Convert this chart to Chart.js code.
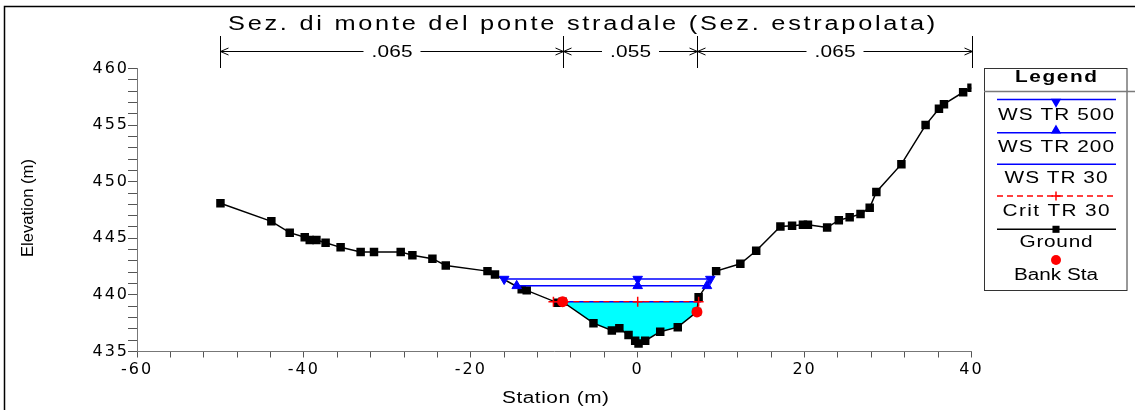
<!DOCTYPE html>
<html>
<head>
<meta charset="utf-8">
<script src="https://cdn.jsdelivr.net/npm/chart.js@4.4.0/dist/chart.umd.min.js"></script>
<style>
html,body{margin:0;padding:0;background:#fff;}
canvas{display:block;}
</style>
</head>
<body>
<canvas id="c" width="1135" height="410"></canvas>
<script>
// ---------------- data ----------------
const chartTitle = 'Sez. di monte del ponte stradale (Sez. estrapolata)';
const xTitle = 'Station (m)';
const yTitle = 'Elevation (m)';
const legendTitle = 'Legend';

const groundStation = [-50.0, -43.9, -41.7, -39.9, -39.3, -38.5, -37.4, -35.6, -33.2, -31.6,
  -28.4, -27.0, -24.6, -23.0, -18.0, -17.1, -13.9, -13.3, -9.6, -9.0,
  -5.3, -3.1, -2.2, -1.1, -0.3, 0.1, 0.9, 2.7, 4.8, 7.1,
  7.3, 9.4, 12.3, 14.2, 17.1, 18.5, 19.8, 20.4, 22.7, 24.1,
  25.4, 26.7, 27.8, 28.6, 31.6, 34.5, 36.1, 36.7, 39.0, 40.0];
const groundElev = [448.1, 446.5, 445.5, 445.1, 444.85, 444.85, 444.6, 444.2, 443.8, 443.8,
  443.8, 443.5, 443.2, 442.6, 442.1, 441.8, 440.5, 440.4, 439.3, 439.4,
  437.5, 436.85, 437.05, 436.45, 435.95, 435.7, 435.95, 436.75, 437.15, 438.5,
  439.8, 442.1, 442.75, 443.9, 446.05, 446.1, 446.2, 446.2, 445.95, 446.6,
  446.85, 447.15, 447.7, 449.1, 451.55, 455.0, 456.45, 456.85, 457.9, 458.3];

const bankStation = [-9.0, 7.1];
const bankElev = [439.4, 438.5];

const wsNames = ['WS TR 500', 'WS TR 200', 'WS TR 30', 'Crit TR 30'];
const wsElev = [441.4, 440.8, 439.4, 439.4];
const wsLeft = [-16.0, -14.5, -10.1, -10.1];
const wsRight = [8.7, 8.3, 7.6, 7.3];
const wsMarkStation = [0, 0, null, 0];

const manningBreaks = [-50, -9.0, 7.1, 40];
const manningN = ['.065', '.055', '.065'];

const xTickLabels = [-60, -40, -20, 0, 20, 40];
const yTickLabels = [435, 440, 445, 450, 455, 460];

// ---------------- helpers ----------------
const FONT = '"Liberation Sans", Arial, Helvetica, sans-serif';
const TICKFONT = '"DejaVu Sans", "Liberation Sans", sans-serif';
const BLUE = '#0000ff', RED = '#ff0000', CYAN = '#00ffff';

function pts(xs, ys) { return xs.map((x, i) => ({x: x, y: ys[i]})); }
function wsData(i) {
  const d = [{x: wsLeft[i], y: wsElev[i]}];
  if (wsMarkStation[i] !== null) d.push({x: wsMarkStation[i], y: wsElev[i]});
  d.push({x: wsRight[i], y: wsElev[i]});
  return d;
}
const waterPts = [{x: wsLeft[2], y: wsElev[2]}];
groundStation.forEach((s, i) => {
  if (s > wsLeft[2] && s < wsRight[2]) waterPts.push({x: s, y: groundElev[i]});
});
waterPts.push({x: wsRight[2], y: wsElev[2]});

// draw text stretched horizontally (max factor maxK) and letter-spaced to fill `width`
function fitText(ctx, text, cx, cy, width, size, bold, align, maxK) {
  maxK = maxK || 1.3;
  ctx.save();
  ctx.font = (bold ? 'bold ' : '') + size + 'px ' + FONT;
  ctx.letterSpacing = '0px';
  const w0 = ctx.measureText(text).width;
  const n = Array.from(text).length;
  let k = width / w0;
  if (k > maxK) k = maxK;
  const sp = n > 1 ? (width / k - w0) / (n - 1) : 0;
  ctx.letterSpacing = sp.toFixed(2) + 'px';
  ctx.fillStyle = '#000';
  ctx.textBaseline = 'middle';
  ctx.textAlign = 'left';
  const left = align === 'left' ? cx : cx - width / 2;
  ctx.translate(left, cy);
  ctx.scale(k, 1);
  ctx.fillText(text, 0, 0);
  ctx.restore();
}
function seg(ctx, x1, y1, x2, y2) {
  ctx.beginPath(); ctx.moveTo(x1, y1); ctx.lineTo(x2, y2); ctx.stroke();
}

// ---------------- datasets ----------------
const datasets = [
  { label: 'Bank Sta', data: pts(bankStation, bankElev), showLine: false,
    pointStyle: 'circle', pointRadius: 5.5, pointBackgroundColor: RED, pointBorderColor: RED,
    pointBorderWidth: 0, borderColor: RED, backgroundColor: RED },
  { label: wsNames[3], data: wsData(3), showLine: true, borderColor: RED, borderWidth: 1.3,
    borderDash: [6, 4], pointStyle: 'cross', pointRadius: 5, pointBorderColor: RED,
    pointBackgroundColor: RED, pointBorderWidth: 1.5 },
  { label: wsNames[0], data: wsData(0), showLine: true, borderColor: BLUE, borderWidth: 1.5,
    pointStyle: 'triangle', pointRotation: 180, pointRadius: 5.5, pointBackgroundColor: BLUE,
    pointBorderColor: BLUE, pointBorderWidth: 1 },
  { label: wsNames[1], data: wsData(1), showLine: true, borderColor: BLUE, borderWidth: 1.5,
    pointStyle: 'triangle', pointRotation: 0, pointRadius: 5.5, pointBackgroundColor: BLUE,
    pointBorderColor: BLUE, pointBorderWidth: 1 },
  { label: wsNames[2], data: wsData(2), showLine: true, borderColor: BLUE, borderWidth: 1.5,
    pointRadius: 0 },
  { label: 'Ground', data: pts(groundStation, groundElev), showLine: true, borderColor: '#000',
    borderWidth: 1.5, pointStyle: 'rect', pointRadius: 6, pointBackgroundColor: '#000',
    pointBorderColor: '#000', pointBorderWidth: 0 },
  { label: 'water', data: waterPts, showLine: true, borderWidth: 0, borderColor: 'rgba(0,0,0,0)',
    pointRadius: 0,
    fill: { target: { value: wsElev[2] }, above: 'rgba(0,0,0,0)', below: CYAN } }
];

// ---------------- plugins ----------------
const spacingPlugin = {
  id: 'spacing',
  beforeDraw(chart) { chart.ctx.letterSpacing = '2px'; },
  beforeDatasetsDraw(chart) { chart.ctx.letterSpacing = '0px'; }
};

const legendRows = [
  { label: wsNames[0], lineY: 99.5, textY: 115.5, w: 116, mk: {r: 4.5, dy: 2.2} },
  { label: wsNames[1], lineY: 132.7, textY: 148, w: 116, mk: {r: 4.5, dy: -2.2} },
  { label: wsNames[2], lineY: 164.3, textY: 179, w: 103, mk: null },
  { label: wsNames[3], lineY: 196, textY: 212, w: 107, mk: {r: 4.5, dy: 0} },
  { label: 'Ground', lineY: 229.3, textY: 243, w: 73, mk: {r: 5, dy: 0} },
  { label: 'Bank Sta', lineY: 260, textY: 275.5, w: 84, mk: {r: 5, dy: 0} }
];

const decoPlugin = {
  id: 'deco',
  afterDraw(chart) {
    const ctx = chart.ctx;
    const xs = chart.scales.x;
    ctx.save();
    ctx.letterSpacing = '0px';
    ctx.setLineDash([]);
    // outer frame
    ctx.strokeStyle = '#000'; ctx.lineWidth = 1.5;
    ctx.beginPath(); ctx.moveTo(4.5, 410); ctx.lineTo(4.5, 6.5); ctx.lineTo(1135, 6.5); ctx.stroke();

    // title
    fitText(ctx, chartTitle, 228, 24.5, 707, 19.5, false, 'left', 1.3);

    // manning n annotations
    ctx.strokeStyle = '#000'; ctx.lineWidth = 1;
    const yA = 51.5;
    const px = manningBreaks.map(v => Math.round(xs.getPixelForValue(v)) + 0.5);
    px.forEach(p => seg(ctx, p, 36, p, 68));
    for (let i = 0; i < manningN.length; i++) {
      const a = px[i], b = px[i + 1], mid = (a + b) / 2, tw = 41, gap = 8;
      seg(ctx, a, yA, mid - tw / 2 - gap, yA);
      seg(ctx, mid + tw / 2 + gap, yA, b, yA);
      seg(ctx, a, yA, a + 8, yA - 3.5); seg(ctx, a, yA, a + 8, yA + 3.5);
      seg(ctx, b, yA, b - 8, yA - 3.5); seg(ctx, b, yA, b - 8, yA + 3.5);
      fitText(ctx, manningN[i], mid, yA + 1.5, tw, 16, false, 'center', 1.3);
    }

    // axis titles
    fitText(ctx, xTitle, 555.5, 399, 107, 16, false, 'center', 1.3);
    ctx.save();
    ctx.translate(28.5, 208);
    ctx.rotate(-Math.PI / 2);
    fitText(ctx, yTitle, 0, 0, 98, 16, false, 'center', 1.1);
    ctx.restore();

    // legend
    const cx = 1056, x0 = 997, x1 = 1116;
    ctx.strokeStyle = '#333'; ctx.lineWidth = 1;
    ctx.strokeRect(984.5, 68.5, 142.5, 222);
    fitText(ctx, legendTitle, cx, 78, 82, 16, true, 'center', 1.3);
    ctx.strokeStyle = '#7a7a7a'; ctx.lineWidth = 1.5;
    seg(ctx, 984, 91.5, 1135, 91.5);
    legendRows.forEach(row => {
      const ds = chart.data.datasets.find(d => d.label === row.label);
      if (ds.showLine) {
        ctx.save();
        ctx.strokeStyle = ds.borderColor; ctx.lineWidth = ds.borderWidth;
        ctx.setLineDash(ds.borderDash || []);
        seg(ctx, x0, row.lineY, x1, row.lineY);
        ctx.restore();
      }
      if (row.mk && ds.pointRadius > 0) {
        ctx.save();
        ctx.fillStyle = ds.pointBackgroundColor;
        ctx.strokeStyle = ds.pointBorderColor;
        ctx.setLineDash([]);
        Chart.helpers.drawPoint(ctx, {
          pointStyle: ds.pointStyle, radius: row.mk.r, rotation: ds.pointRotation || 0,
          borderWidth: ds.pointBorderWidth
        }, cx, row.lineY + row.mk.dy);
        ctx.restore();
      }
      fitText(ctx, row.label, cx, row.textY, row.w, 16, false, 'center', 1.3);
    });
    ctx.restore();
  }
};

// ---------------- chart ----------------
new Chart(document.getElementById('c'), {
  type: 'line',
  data: { datasets: datasets },
  options: {
    responsive: false,
    animation: false,
    events: [],
    layout: { padding: { left: 0, top: 68.5, right: 163.5, bottom: 0 } },
    plugins: { legend: { display: false }, tooltip: { enabled: false }, title: { display: false } },
    elements: { line: { tension: 0 } },
    scales: {
      x: {
        type: 'linear', position: 'bottom', min: -60, max: 40,
        afterFit(s) { s.height = 58.5; },
        ticks: {
          stepSize: 4, autoSkip: false, maxRotation: 0, minRotation: 0, padding: 3,
          color: '#000', font: { size: 16, family: TICKFONT },
          callback: v => xTickLabels.some(t => Math.abs(t - v) < 1e-6) ? String(Math.round(v)) : ''
        },
        grid: { drawOnChartArea: false, drawTicks: true, tickLength: 6, color: '#555', lineWidth: 1 },
        border: { display: true, color: '#777', width: 1 },
        title: { display: false }
      },
      y: {
        type: 'linear', position: 'left', min: 435, max: 460,
        afterFit(s) { s.width = 137; },
        ticks: {
          stepSize: 1, autoSkip: false, padding: -1,
          color: '#000', font: { size: 16, family: TICKFONT },
          callback: v => yTickLabels.some(t => Math.abs(t - v) < 1e-6) ? String(Math.round(v)) : ''
        },
        grid: { drawOnChartArea: false, drawTicks: true, tickLength: 9, color: '#555', lineWidth: 1 },
        border: { display: true, color: '#777', width: 1 },
        title: { display: false }
      }
    }
  },
  plugins: [spacingPlugin, decoPlugin]
});
</script>
</body>
</html>
